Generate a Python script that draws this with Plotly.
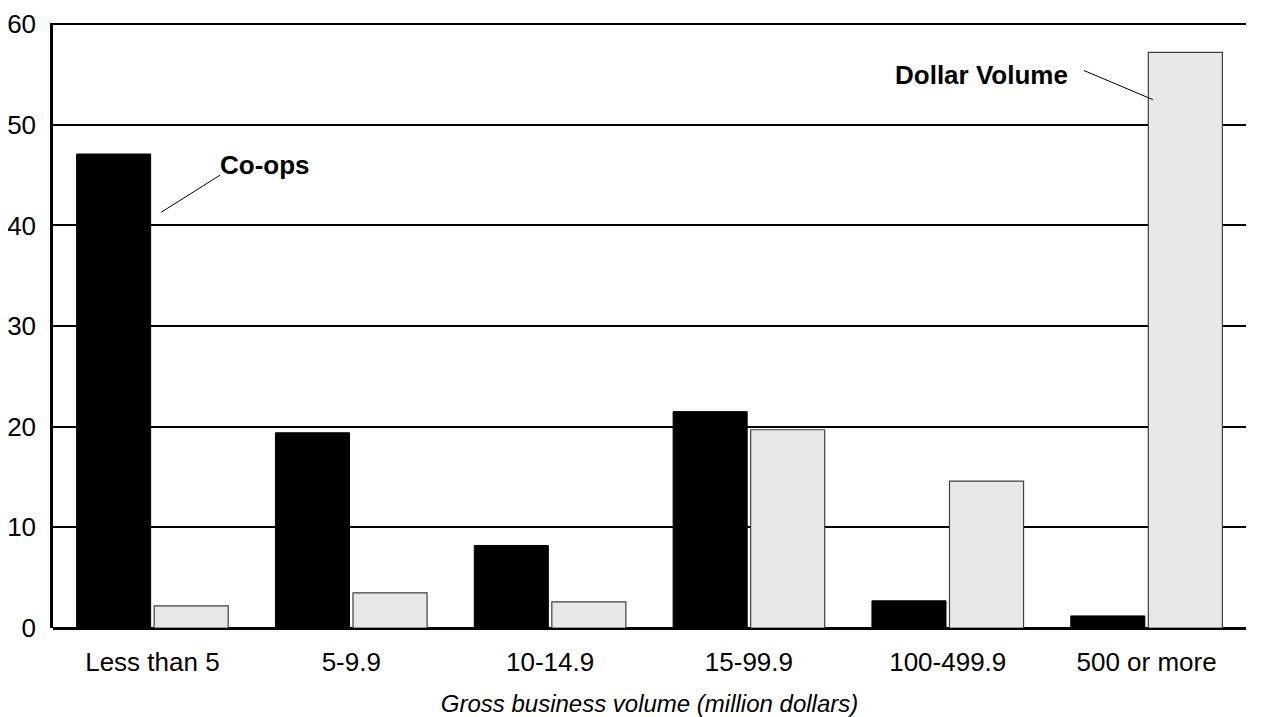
import plotly.graph_objects as go

categories = ["Less than 5", "5-9.9", "10-14.9", "15-99.9", "100-499.9", "500 or more"]
coops = [47.1, 19.4, 8.2, 21.5, 2.7, 1.2]
dollar_volume = [2.2, 3.5, 2.6, 19.7, 14.6, 57.2]
y_ticks = [0, 10, 20, 30, 40, 50, 60]

fig = go.Figure()
fig.add_trace(go.Bar(x=categories, y=coops, name="Co-ops",
                     marker=dict(color="black", line=dict(color="black", width=1))))
fig.add_trace(go.Bar(x=categories, y=dollar_volume, name="Dollar Volume",
                     marker=dict(color="#e8e8e8", line=dict(color="#404040", width=1.2))))

font_family = "Liberation Sans, Arial, sans-serif"

fig.update_layout(
    width=1261, height=717,
    margin=dict(l=45, r=23, t=15, b=97),
    paper_bgcolor="white", plot_bgcolor="white",
    barmode="group", bargap=0.22, bargroupgap=0.045,
    showlegend=False,
    font=dict(family=font_family, size=26, color="black"),
    xaxis=dict(
        showgrid=False, showline=False, ticks="", automargin=False,
        tickfont=dict(size=26), ticklabelstandoff=16,
        title=dict(text="<i>Gross business volume (million dollars)</i>",
                   font=dict(size=24), standoff=19),
    ),
    yaxis=dict(
        range=[0, 60.12], tickvals=y_ticks, showgrid=True, gridcolor="black", gridwidth=2,
        showline=True, linecolor="black", linewidth=2.5, ticks="", automargin=False,
        tickfont=dict(size=26), zeroline=True, zerolinecolor="black", zerolinewidth=3,
        ticklabelstandoff=9, ticklabeloverflow="allow",
    ),
    annotations=[
        dict(x=0.566, y=46.0, xref="x", yref="y", text="<b>Co-ops</b>", showarrow=False,
             font=dict(size=26)),
        dict(x=4.17, y=55.0, xref="x", yref="y", text="<b>Dollar Volume</b>", showarrow=False,
             font=dict(size=26)),
    ],
    shapes=[
        dict(type="line", xref="x", yref="y", x0=0.043, y0=41.3, x1=0.34, y1=45.0,
             line=dict(color="black", width=1)),
        dict(type="line", xref="x", yref="y", x0=4.685, y0=55.4, x1=5.032, y1=52.5,
             line=dict(color="black", width=1)),
    ],
)

fig.write_html("out.html")
